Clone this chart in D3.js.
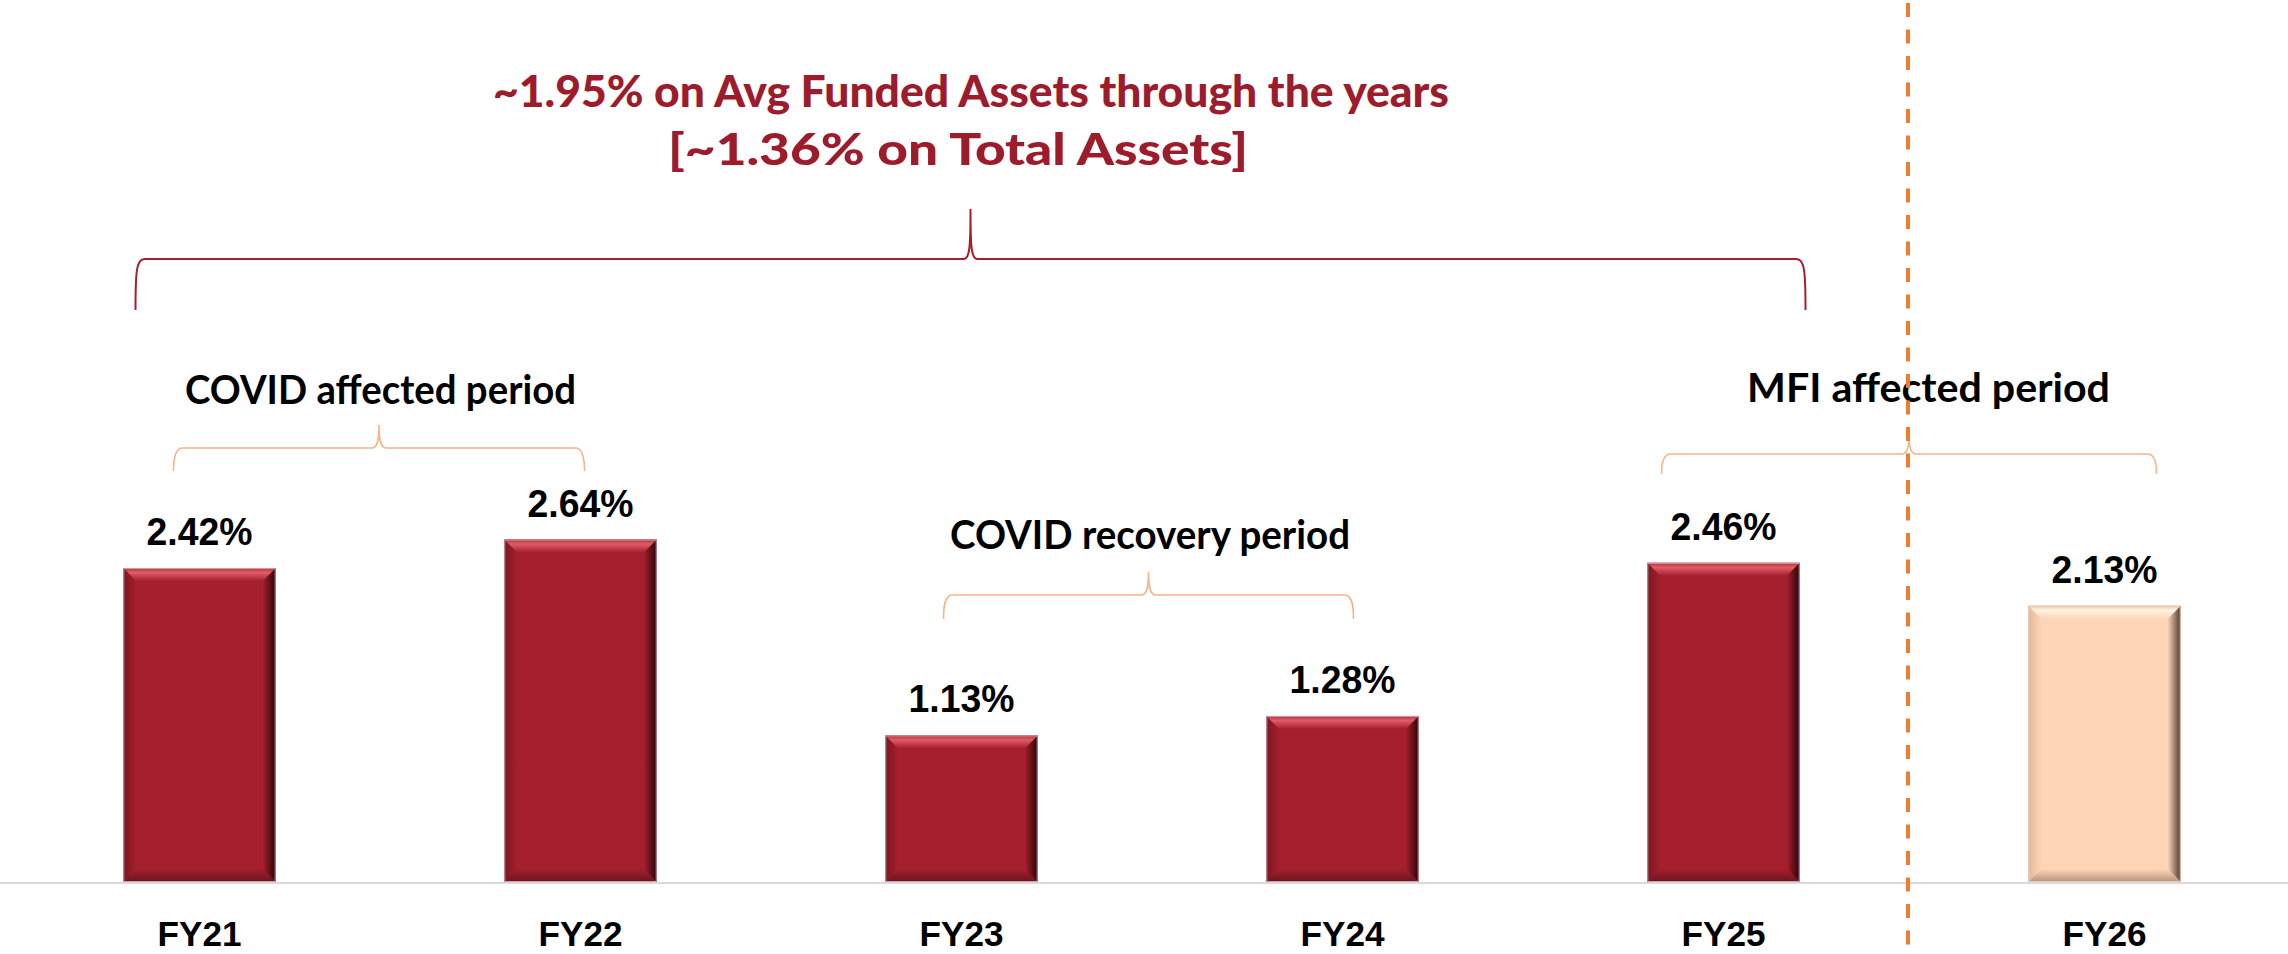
<!DOCTYPE html>
<html>
<head>
<meta charset="utf-8">
<script src="https://cdn.jsdelivr.net/npm/d3@7"></script>
<style>
  html, body { margin: 0; padding: 0; background: #fff; }
  svg { display: block; }
</style>
</head>
<body>
<svg id="chart"></svg>
<script>
// data
const categories = ["FY21", "FY22", "FY23", "FY24", "FY25", "FY26"];
const values = [2.42, 2.64, 1.13, 1.28, 2.46, 2.13];
const valueLabels = ["2.42%", "2.64%", "1.13%", "1.28%", "2.46%", "2.13%"];
const projected = ["FY26"];
const titleLines = ["~1.95% on Avg Funded Assets through the years", "[~1.36% on Total Assets]"];
const periodLabels = ["COVID affected period", "COVID recovery period", "MFI affected period"];
const periodSpans = [["FY21", "FY22"], ["FY23", "FY24"], ["FY25", "FY26"]];
const overallSpan = ["FY21", "FY25"];

const width = 2288, height = 954;
const baseY = 882;
const bev = 13;

const svg = d3.select("#chart")
  .attr("width", width)
  .attr("height", height)
  .attr("viewBox", [0, 0, width, height]);

const x = d3.scaleBand()
  .domain(categories)
  .range([9, 2295])
  .paddingInner(0.6)
  .paddingOuter(0.3);

const y = d3.scaleLinear()
  .domain([0, d3.max(values)])
  .range([baseY, 539.5]);

const cx = c => x(c) + x.bandwidth() / 2;
const bars = categories.map((c, i) => ({ cat: c, value: values[i], label: valueLabels[i], proj: projected.includes(c) }));

// gradients for the bevel look
const defs = svg.append("defs");
const pal = {
  main: { base: "#a51f2e", top: ["#b8303c", "#e05c67", "#a51f2e"], right: "#2a0508", bottom: "#6a1520", left: "#7a1622" },
  proj: { base: "#fdd5b6", top: ["#f3c7a6", "#fff3e2", "#fdd5b6"], right: "#4a3a30", bottom: "#b6937c", left: "#e2b899" }
};
Object.entries(pal).forEach(([k, p]) => {
  const t = defs.append("linearGradient").attr("id", `top-${k}`).attr("x1", 0).attr("y1", 0).attr("x2", 0).attr("y2", 1);
  t.append("stop").attr("offset", 0).attr("stop-color", p.top[0]);
  t.append("stop").attr("offset", 0.35).attr("stop-color", p.top[1]);
  t.append("stop").attr("offset", 1).attr("stop-color", p.top[2]);
  const r = defs.append("linearGradient").attr("id", `right-${k}`).attr("x1", 0).attr("y1", 0).attr("x2", 1).attr("y2", 0);
  r.append("stop").attr("offset", 0).attr("stop-color", p.base);
  r.append("stop").attr("offset", 1).attr("stop-color", p.right);
  const b = defs.append("linearGradient").attr("id", `bottom-${k}`).attr("x1", 0).attr("y1", 0).attr("x2", 0).attr("y2", 1);
  b.append("stop").attr("offset", 0).attr("stop-color", p.base);
  b.append("stop").attr("offset", 1).attr("stop-color", p.bottom);
  const l = defs.append("linearGradient").attr("id", `left-${k}`).attr("x1", 0).attr("y1", 0).attr("x2", 1).attr("y2", 0);
  l.append("stop").attr("offset", 0).attr("stop-color", p.left);
  l.append("stop").attr("offset", 1).attr("stop-color", p.base);
});

// baseline
svg.append("line")
  .attr("x1", 0).attr("x2", width)
  .attr("y1", baseY + 1).attr("y2", baseY + 1)
  .attr("stroke", "#d9d9d9").attr("stroke-width", 2);

// bars
const g = svg.append("g").selectAll("g").data(bars).join("g");
const key = d => d.proj ? "proj" : "main";

g.append("rect")
  .attr("x", d => x(d.cat))
  .attr("y", d => y(d.value))
  .attr("width", x.bandwidth())
  .attr("height", d => y(0) - y(d.value))
  .attr("fill", d => pal[key(d)].base);

const poly = pts => pts.map(p => p.join(",")).join(" ");
g.append("polygon")
  .attr("fill", d => `url(#left-${key(d)})`)
  .attr("points", d => {
    const x0 = x(d.cat), t = y(d.value), b = y(0);
    return poly([[x0, t], [x0 + bev, t + bev], [x0 + bev, b - bev], [x0, b]]);
  });
g.append("polygon")
  .attr("fill", d => `url(#right-${key(d)})`)
  .attr("points", d => {
    const x1 = x(d.cat) + x.bandwidth(), t = y(d.value), b = y(0);
    return poly([[x1, t], [x1 - bev, t + bev], [x1 - bev, b - bev], [x1, b]]);
  });
g.append("polygon")
  .attr("fill", d => `url(#top-${key(d)})`)
  .attr("points", d => {
    const x0 = x(d.cat), x1 = x0 + x.bandwidth(), t = y(d.value);
    return poly([[x0, t], [x1, t], [x1 - bev, t + bev], [x0 + bev, t + bev]]);
  });
g.append("polygon")
  .attr("fill", d => `url(#bottom-${key(d)})`)
  .attr("points", d => {
    const x0 = x(d.cat), x1 = x0 + x.bandwidth(), b = y(0);
    return poly([[x0 + bev, b - bev], [x1 - bev, b - bev], [x1, b], [x0, b]]);
  });
g.append("rect")
  .attr("x", d => x(d.cat) + 0.5)
  .attr("y", d => y(d.value) + 0.5)
  .attr("width", x.bandwidth() - 1)
  .attr("height", d => y(0) - y(d.value) - 1)
  .attr("fill", "none")
  .attr("stroke", d => d.proj ? "#e8cbb4" : "#c9a0a5")
  .attr("stroke-width", 1);

// value labels (slightly condensed, like the source)
g.append("text")
  .attr("x", d => cx(d.cat))
  .attr("y", d => y(d.value) - 23)
  .attr("text-anchor", "middle")
  .attr("font-family", "Liberation Sans, Arial, sans-serif")
  .attr("font-weight", "bold")
  .attr("font-size", 39)
  .attr("textLength", 106)
  .attr("lengthAdjust", "spacingAndGlyphs")
  .attr("fill", "#000")
  .text(d => d.label);

// category axis
const xAxis = svg.append("g")
  .attr("transform", `translate(0,${baseY})`)
  .call(d3.axisBottom(x).tickSize(0).tickPadding(0));
xAxis.select(".domain").remove();
xAxis.selectAll("text")
  .attr("dy", null)
  .attr("y", 64)
  .attr("font-family", "Liberation Sans, Arial, sans-serif")
  .attr("font-weight", "bold")
  .attr("font-size", 35)
  .attr("textLength", 84)
  .attr("lengthAdjust", "spacingAndGlyphs")
  .attr("fill", "#000");

// curly brace path
function brace(x0, x1, yH, yEnd, yTip) {
  const m = (x0 + x1) / 2;
  return `M${x0},${yEnd} C${x0},${yH + 12} ${x0 + 1},${yH} ${x0 + 9},${yH}` +
    ` L${m - 7},${yH} C${m - 1},${yH} ${m},${yH - 10} ${m},${yTip}` +
    ` C${m},${yH - 10} ${m + 1},${yH} ${m + 7},${yH}` +
    ` L${x1 - 9},${yH} C${x1 - 1},${yH} ${x1},${yH + 12} ${x1},${yEnd}`;
}

// overall brace + title
const big = { x0: cx(overallSpan[0]) - 64, x1: cx(overallSpan[1]) + 82 };
svg.append("path")
  .attr("d", brace(big.x0, big.x1, 259, 310, 209))
  .attr("fill", "none").attr("stroke", "#a51f2e").attr("stroke-width", 2);

const titleLayout = [{ x: 493, y: 107, w: 956 }, { x: 668, y: 165, w: 580 }];
svg.append("g").selectAll("text").data(titleLines).join("text")
  .attr("x", (d, i) => titleLayout[i].x)
  .attr("y", (d, i) => titleLayout[i].y)
  .attr("textLength", (d, i) => titleLayout[i].w)
  .attr("lengthAdjust", "spacingAndGlyphs")
  .attr("font-family", "Lato, Carlito, Calibri, sans-serif")
  .attr("font-weight", "900")
  .attr("font-size", 44)
  .attr("fill", "#9d1c2c")
  .text(d => d);

// period braces + labels
const periodLayout = [
  { dl: -26, dr: 4, yH: 448, yEnd: 471, yTip: 425, ty: 404, tx: 185, tw: 391 },
  { dl: -18, dr: 11, yH: 595, yEnd: 619, yTip: 572, ty: 549, tx: 950, tw: 400 },
  { dl: -62, dr: 52, yH: 454, yEnd: 474, yTip: 436, ty: 402, tx: 1747, tw: 363 }
];
periodSpans.forEach((s, i) => {
  const L = periodLayout[i];
  svg.append("path")
    .attr("d", brace(cx(s[0]) + L.dl, cx(s[1]) + L.dr, L.yH, L.yEnd, L.yTip))
    .attr("fill", "none").attr("stroke", "#f6b48a").attr("stroke-width", 1.6);
  svg.append("text")
    .attr("x", L.tx).attr("y", L.ty)
    .attr("textLength", L.tw)
    .attr("lengthAdjust", "spacingAndGlyphs")
    .attr("font-family", "Lato, Carlito, Calibri, sans-serif")
    .attr("font-weight", "bold")
    .attr("font-size", 41)
    .attr("fill", "#000")
    .text(periodLabels[i]);
});

// divider between actuals and projection
const divX = (x(categories[4]) + x.bandwidth() + x(categories[5])) / 2 - 6;
svg.append("line")
  .attr("x1", divX).attr("x2", divX)
  .attr("y1", 0).attr("y2", height)
  .attr("stroke", "#ed7d31").attr("stroke-width", 4)
  .attr("stroke-dasharray", "14,12.5")
  .attr("stroke-dashoffset", -3);
</script>
</body>
</html>
